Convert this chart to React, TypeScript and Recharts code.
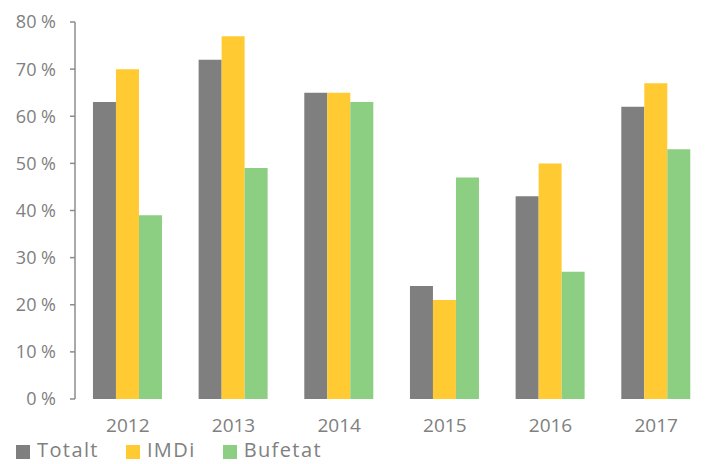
import React from 'react';
import { BarChart, Bar, XAxis, YAxis, Legend } from 'recharts';

const years = ['2012', '2013', '2014', '2015', '2016', '2017'];
const totalt = [63, 72, 65, 24, 43, 62];
const imdi = [70, 77, 65, 21, 50, 67];
const bufetat = [39, 49, 63, 47, 27, 53];
const yTicks = [0, 10, 20, 30, 40, 50, 60, 70, 80];
const edgeTicks = [0, 1, 2, 3, 4, 5, 6];

const series = [
    { key: 'totalt', name: 'Totalt', color: '#7f7f7f' },
    { key: 'imdi', name: 'IMDi', color: '#ffca32' },
    { key: 'bufetat', name: 'Bufetat', color: '#8dcf82' },
];

const data = years.map((year, i) => ({
    year,
    totalt: totalt[i],
    imdi: imdi[i],
    bufetat: bufetat[i],
}));

const textColor = '#808080';
const axisColor = '#8c8c8c';
const font = '"Open Sans", sans-serif';

const LegendContent = () => (
    <div style={{ display: 'flex', alignItems: 'center', fontFamily: font, fontSize: 20, lineHeight: '28px', color: textColor, paddingLeft: 16 }}>
        {series.map(s => (
            <div key={s.key} style={{ display: 'flex', alignItems: 'center', marginRight: 27 }}>
                <span style={{ display: 'inline-block', width: 14, height: 14, background: s.color, marginRight: 7, marginTop: 3 }} />
                <span style={{ letterSpacing: 1.4 }}>{s.name}</span>
            </div>
        ))}
    </div>
);

const App: React.FC = () => {
    return (
        <div style={{ position: 'absolute', left: 0, top: 0, width: 710, height: 464 }}>
            <BarChart
                width={710}
                height={464}
                data={data}
                margin={{ top: 22, right: 1, left: 0, bottom: 0 }}
                barCategoryGap="17%"
                barGap={0}
            >
                <XAxis
                    xAxisId="edge"
                    type="number"
                    domain={[0, 6]}
                    ticks={edgeTicks}
                    tick={false}
                    tickSize={6}
                    height={0}
                    axisLine={{ stroke: axisColor, strokeWidth: 1.5 }}
                    tickLine={{ stroke: axisColor, strokeWidth: 1.5 }}
                />
                <XAxis
                    dataKey="year"
                    height={37}
                    axisLine={false}
                    tickLine={false}
                    tickSize={0}
                    tickMargin={20}
                    tick={{ fill: textColor, fontSize: 19, fontFamily: font }}
                />
                <YAxis
                    width={75}
                    domain={[0, 80]}
                    ticks={yTicks}
                    tickFormatter={(v) => `${v} %`}
                    tickSize={5}
                    tickMargin={14}
                    axisLine={{ stroke: axisColor, strokeWidth: 1.5 }}
                    tickLine={{ stroke: axisColor, strokeWidth: 1.5 }}
                    tick={{ fill: textColor, fontSize: 18, fontFamily: font }}
                />
                <Legend
                    verticalAlign="bottom"
                    align="left"
                    content={<LegendContent />}
                    wrapperStyle={{ left: 0, bottom: 0, height: 28 }}
                />
                {series.map(s => (
                    <Bar key={s.key} dataKey={s.key} name={s.name} fill={s.color} isAnimationActive={false} />
                ))}
            </BarChart>
        </div>
    );
};

export default App;
